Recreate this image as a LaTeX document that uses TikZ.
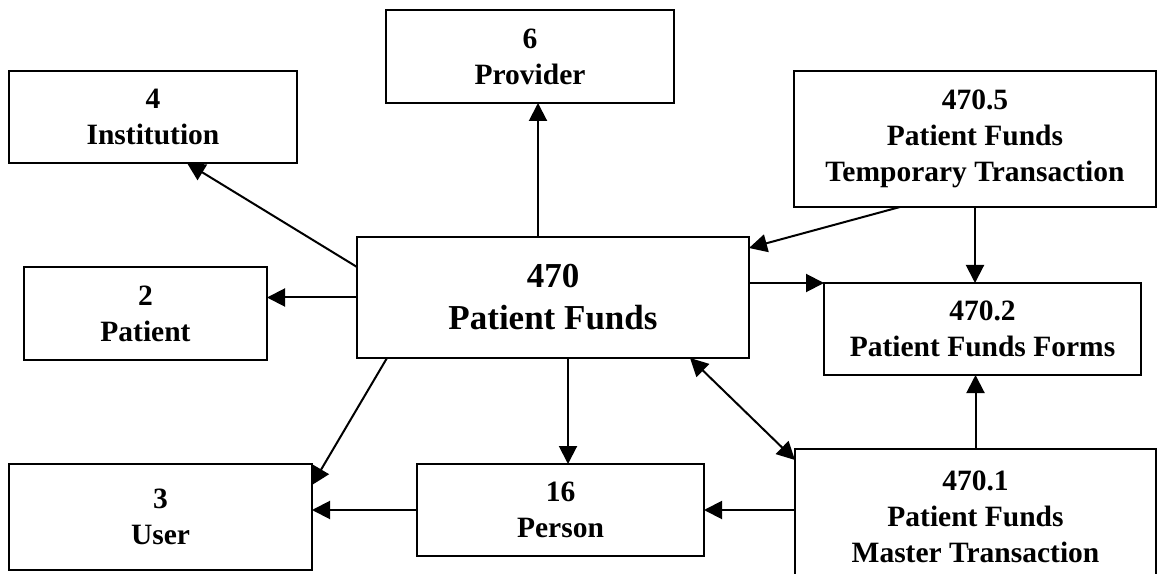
\documentclass[tikz,border=0pt]{standalone}
\usepackage{fontspec}
\setmainfont{Liberation Serif}
\usepackage{tikz}
\usetikzlibrary{calc}
\usetikzlibrary{positioning}
\usetikzlibrary{arrows.meta}

\begin{document}
\begin{tikzpicture}[font=\fontsize{11.8}{14.4}\selectfont\bfseries, line width=0.8pt,
      ent style/.style={rectangle,draw=black,align=center,inner sep=0pt,
        outer sep=0pt},
      big style/.style={font=\fontsize{14}{16.8}\selectfont\bfseries},
      conn style/.style={-{Triangle[length=7.2pt,width=7.2pt]}},
      both style/.style={{Triangle[length=7.2pt,width=7.2pt]}-{Triangle[length=7.2pt,width=7.2pt]}}
      ]

      \useasboundingbox (0,0) rectangle (462.8pt,-229.6pt);

      \node[ent style, big style, minimum width=156.8pt, minimum height=48.4pt] (funds) at (221.2pt,-119pt) {470\\Patient Funds};

      \node[ent style, minimum width=115.2pt, minimum height=37.2pt, above=53.6pt of funds, xshift=-9.2pt] (prov) {6\\Provider};
      \node[ent style, minimum width=115.2pt, minimum height=36.8pt, left=24pt of funds, yshift=72.2pt] (inst) {4\\Institution};
      \node[ent style, minimum width=97.2pt, minimum height=37.2pt, left=36pt of funds, yshift=-6.4pt] (pat) {2\\Patient};
      \node[ent style, minimum width=114.8pt, minimum height=36.8pt, below=42.4pt of funds, xshift=3pt] (pers) {16\\Person};
      \node[ent style, minimum width=121.2pt, minimum height=42.4pt, left=42pt of pers, yshift=-2.8pt] (user) {3\\User};
      \node[ent style, minimum width=144.4pt, minimum height=54.4pt, right=36.4pt of pers, yshift=-2.8pt] (mast) {470.1\\Patient Funds\\Master Transaction};
      \node[ent style, minimum width=126.8pt, minimum height=36.8pt, above=29.6pt of mast, xshift=2.8pt] (forms) {470.2\\Patient Funds Forms};
      \node[ent style, minimum width=144.8pt, minimum height=54.4pt, above=30.4pt of forms, xshift=-3pt] (temp) {470.5\\Patient Funds\\Temporary Transaction};

      \coordinate (fundsup) at ([xshift=-6pt]funds.north);
      \coordinate (fundsdown) at ([xshift=6pt]funds.south);

      \draw[conn style] (fundsup) -- (fundsup |- prov.south);
      \draw[conn style] ([yshift=12.2pt]funds.west) -- ([xshift=13.6pt]inst.south);
      \draw[conn style] (funds.west) -- (funds.west -| pat.east);
      \draw[conn style] ([xshift=12pt]funds.south west) -- ([yshift=12.8pt]user.east);
      \draw[conn style] (fundsdown) -- (fundsdown |- pers.north);
      \draw[conn style] (pers.west) -- (pers.west -| user.east);

      \draw[both style] ([xshift=-23.6pt]funds.south east) -- ([yshift=-4.4pt]mast.north west);
      \draw[conn style] (pers.east -| mast.west) -- (pers.east);
      \draw[conn style] (mast.north) -- (mast.north |- forms.south);
      \draw[conn style] (temp.south) -- (temp.south |- forms.north);
      \draw[conn style] ([xshift=42.4pt]temp.south west) -- ([yshift=-4.4pt]funds.north east);
      \draw[conn style] (forms.north west -| funds.east) -- (forms.north west);

    \end{tikzpicture}
\end{document}
